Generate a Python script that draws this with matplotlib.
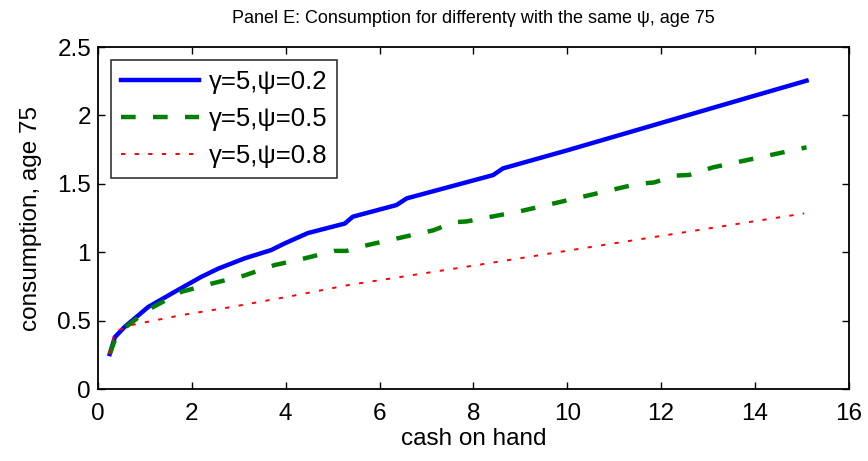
import numpy as np
import matplotlib.pyplot as plt

plt.rcParams['font.family'] = ['Liberation Sans', 'DejaVu Sans']

# consumption policy at age 75, gamma fixed at 5
cash_psi02 = [0.25, 0.36, 0.57, 1.07, 1.63, 2.20, 2.56, 3.12, 3.69, 3.98, 4.47,
              5.26, 5.43, 6.36, 6.58, 8.42, 8.63, 10.0, 12.0, 14.0, 15.1]
cons_psi02 = [0.256, 0.38, 0.455, 0.60, 0.71, 0.82, 0.88, 0.955, 1.016, 1.065, 1.14,
              1.21, 1.26, 1.345, 1.394, 1.564, 1.613, 1.745, 1.945, 2.145, 2.254]

cash_psi05 = [0.25, 0.36, 0.6, 1.07, 1.77, 2.41, 3.12, 3.76, 4.40, 5.04, 5.3, 5.58,
              7.14, 7.6, 7.85, 9.0, 10.48, 11.5, 11.85, 12.3, 12.6, 13.1, 15.1]
cons_psi05 = [0.256, 0.36, 0.455, 0.58, 0.71, 0.77, 0.83, 0.906, 0.955, 1.01, 1.01, 1.04,
              1.16, 1.22, 1.225, 1.30, 1.418, 1.50, 1.51, 1.56, 1.565, 1.62, 1.767]

cash_psi08 = [0.25, 0.36, 0.71, 1.77, 2.84, 4.05, 5.33, 8.07, 10.77, 15.05]
cons_psi08 = [0.256, 0.42, 0.468, 0.54, 0.60, 0.675, 0.76, 0.906, 1.053, 1.284]

labels = ['\u03b3=5,\u03c8=0.2', '\u03b3=5,\u03c8=0.5', '\u03b3=5,\u03c8=0.8']

fig = plt.figure(figsize=(8.68, 4.61), dpi=100)
ax = fig.add_axes([0.1129, 0.156, 0.865, 0.742])

ax.plot(cash_psi02, cons_psi02, color='#0000ff', lw=3.2, label=labels[0])
ax.plot(cash_psi05, cons_psi05, color='#008000', lw=3.2, ls=(0, (3.3, 3.9)), label=labels[1])
ax.plot(cash_psi08, cons_psi08, color='#ff0000', lw=1.4, ls=(0, (2.2, 4.8)), label=labels[2])

ax.set_xlim(0, 16)
ax.set_ylim(0, 2.5)
ax.set_xticks(np.arange(0, 17, 2))
ax.set_yticks([0, 0.5, 1, 1.5, 2, 2.5])
ax.set_yticklabels(['0', '0.5', '1', '1.5', '2', '2.5'])
ax.tick_params(direction='in', length=5, width=1, top=True, right=True,
               labelsize=17.5)
ax.tick_params(axis='x', pad=10)
ax.tick_params(axis='y', pad=5)
for s in ax.spines.values():
    s.set_linewidth(1.3)

ax.set_xlabel('cash on hand', fontsize=17.5, labelpad=2)
ax.set_ylabel('consumption, age 75', fontsize=17.5, labelpad=11)
ax.set_title('Panel E: Consumption for different\u03b3 with the same \u03c8, age 75',
             fontsize=13, pad=17)

leg = ax.legend(loc='upper left', fontsize=18.5, frameon=True, fancybox=False,
                edgecolor='black', handlelength=3.05, handletextpad=0.35,
                borderpad=0.4, labelspacing=0.5, borderaxespad=0.5)
leg.get_frame().set_linewidth(1.2)

fig.savefig('out.png', dpi=100)
